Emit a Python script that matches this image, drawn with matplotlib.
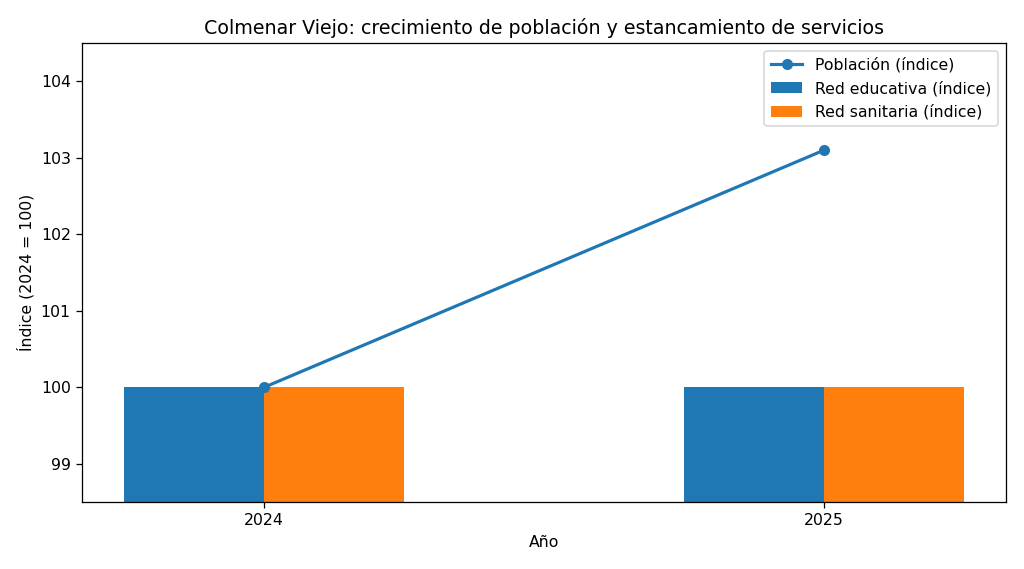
import numpy as np
import matplotlib
matplotlib.use("Agg")
import matplotlib.pyplot as plt

# Data
years = ["2024", "2025"]
poblacion = [100.0, 103.1]
red_educativa = [100.0, 100.0]
red_sanitaria = [100.0, 100.0]

x = np.arange(len(years))
width = 0.25

dpi = 1024 / 9
fig, ax = plt.subplots(figsize=(9, 569 / dpi), dpi=dpi)

ax.bar(x - width / 2, red_educativa, width, label="Red educativa (índice)", color="#1f77b4")
ax.bar(x + width / 2, red_sanitaria, width, label="Red sanitaria (índice)", color="#ff7f0e")
ax.plot(x, poblacion, marker="o", linewidth=2, color="#1f77b4", label="Población (índice)")

ax.set_ylim(98.5, 104.5)
ax.set_xticks(x)
ax.set_xticklabels(years)
ax.set_xlabel("Año")
ax.set_ylabel("Índice (2024 = 100)")
ax.set_title("Colmenar Viejo: crecimiento de población y estancamiento de servicios")

ax.legend(loc="upper right")

plt.subplots_adjust(left=0.08, right=0.982, top=0.924, bottom=0.1175)
fig.savefig("out.png", dpi=dpi)
